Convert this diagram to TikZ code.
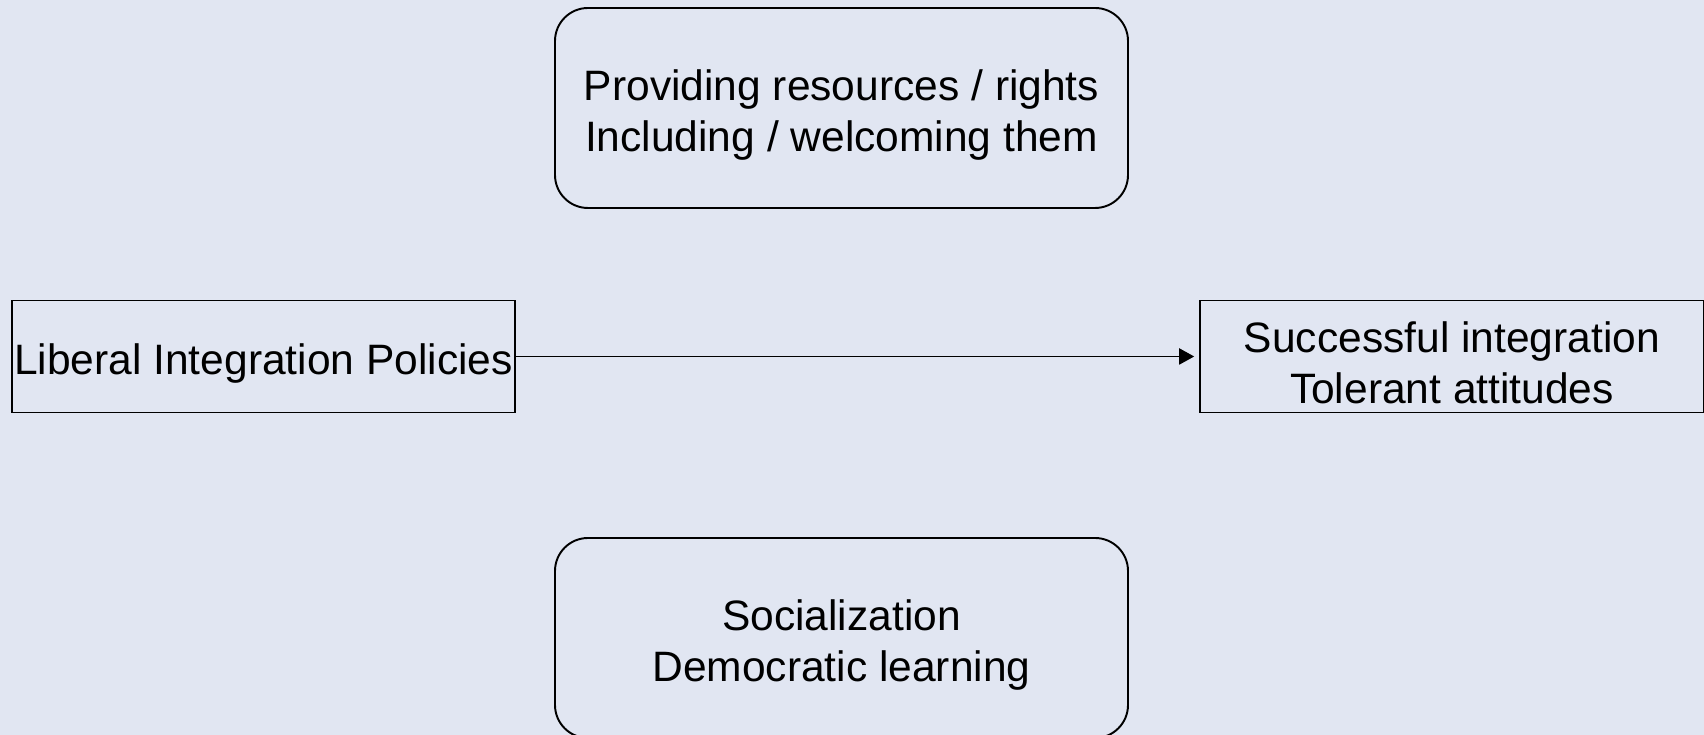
\documentclass[tikz,border=0pt]{standalone}
\usepackage{fontspec}
\setmainfont{Liberation Sans}
\usepackage{tikz}
\usetikzlibrary{arrows.meta,positioning,shapes}
\definecolor{bgpanel}{RGB}{225,230,242}
\newcommand{\txtstrut}{\rule{0pt}{0.88cm}}

\begin{document}
\begin{tikzpicture}[line width=1.1pt, font=\fontsize{24.2pt}{29pt}\selectfont]
	\tikzstyle{rect}=[draw, rectangle, minimum width=10.07cm, minimum height=2.24cm, inner sep=0pt, align=center]
	\tikzstyle{rbox}=[draw, rectangle, rounded corners=0.66cm, minimum width=11.46cm, minimum height=4cm, inner sep=0pt, align=center]
	
	\fill[bgpanel] (0,0) rectangle (34.08,14.70);
	\useasboundingbox (0,0) rectangle (34.08,14.70);
	\clip (0,0) rectangle (34.08,14.70);
	
	\node[rect] (lib) at (5.27,7.57) {\txtstrut Liberal Integration Policies};
	\node[rect] (succ) [right=13.66cm of lib] {\txtstrut Successful integration\\Tolerant attitudes};
	
	\node[rbox] (prov) at (16.83,12.54) {\txtstrut Providing resources / rights\\Including / welcoming them};
	\node[rbox] (soc) at (16.83,1.94) {\txtstrut Socialization\\Democratic learning};
	
	\draw[-{Triangle[length=0.3cm,width=0.32cm]}, shorten >=0.1cm] (lib) -- (succ);
     \end{tikzpicture}
\end{document}
